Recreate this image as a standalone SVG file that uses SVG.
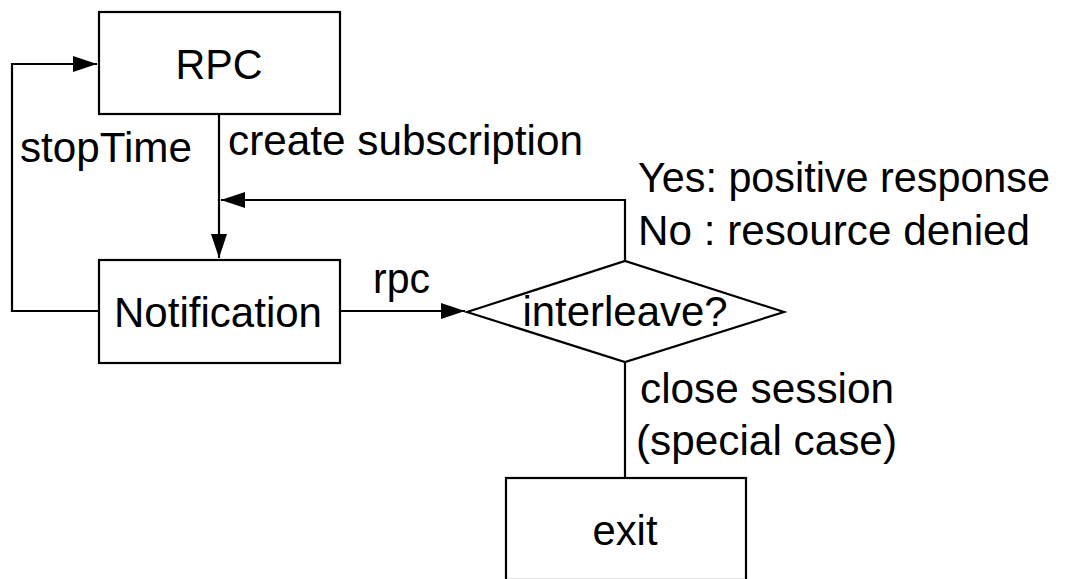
<svg xmlns="http://www.w3.org/2000/svg" width="1065" height="579" viewBox="0 0 1065 579">
<style>
.box{fill:#fff;stroke:#000;stroke-width:2.2}
.ln{fill:none;stroke:#000;stroke-width:2.2}
text{font-family:"Liberation Sans",Arial,Helvetica,sans-serif;font-size:42px;fill:#000}
</style>
<defs>
<marker id="arr" markerUnits="userSpaceOnUse" markerWidth="26" markerHeight="18" refX="24" refY="8" orient="auto">
<path d="M0,0 L24,8 L0,16 Z" fill="#000"/>
</marker>
</defs>
<rect width="1065" height="579" fill="#fff"/>
<g id="connectors">
<polyline class="ln" points="99,311 12,311 12,64 97,64" marker-end="url(#arr)"/>
<line class="ln" x1="219" y1="114" x2="219" y2="258" marker-end="url(#arr)"/>
<polyline class="ln" points="625,261 625,200 221,200" marker-end="url(#arr)"/>
<line class="ln" x1="340" y1="311" x2="465" y2="311" marker-end="url(#arr)"/>
<line class="ln" x1="625" y1="362" x2="625" y2="478"/>
<text x="20" y="162" textLength="172" lengthAdjust="spacingAndGlyphs">stopTime</text>
<text x="228" y="155" textLength="355" lengthAdjust="spacingAndGlyphs">create subscription</text>
<text x="638" y="192" textLength="412" lengthAdjust="spacingAndGlyphs">Yes: positive response</text>
<text x="638" y="245" textLength="392" lengthAdjust="spacingAndGlyphs">No : resource denied</text>
<text x="373" y="293" textLength="57" lengthAdjust="spacingAndGlyphs">rpc</text>
<text x="640" y="403" textLength="254" lengthAdjust="spacingAndGlyphs">close session</text>
<text x="636" y="455" textLength="261" lengthAdjust="spacingAndGlyphs">(special case)</text>
</g>
<g id="rpc">
<rect class="box" x="99" y="12" width="241" height="102"/>
<text x="219" y="79" text-anchor="middle" textLength="87" lengthAdjust="spacingAndGlyphs">RPC</text>
</g>
<g id="notification">
<rect class="box" x="99" y="260" width="241" height="103"/>
<text x="218" y="327" text-anchor="middle" textLength="208" lengthAdjust="spacingAndGlyphs">Notification</text>
</g>
<g id="interleave">
<polygon class="box" points="467,312 625,261 784,312 625,362"/>
<text x="625" y="326" text-anchor="middle" textLength="205" lengthAdjust="spacingAndGlyphs">interleave?</text>
</g>
<g id="exit">
<rect class="box" x="506" y="478" width="240" height="102"/>
<text x="625" y="545" text-anchor="middle" textLength="65" lengthAdjust="spacingAndGlyphs">exit</text>
</g>
</svg>
